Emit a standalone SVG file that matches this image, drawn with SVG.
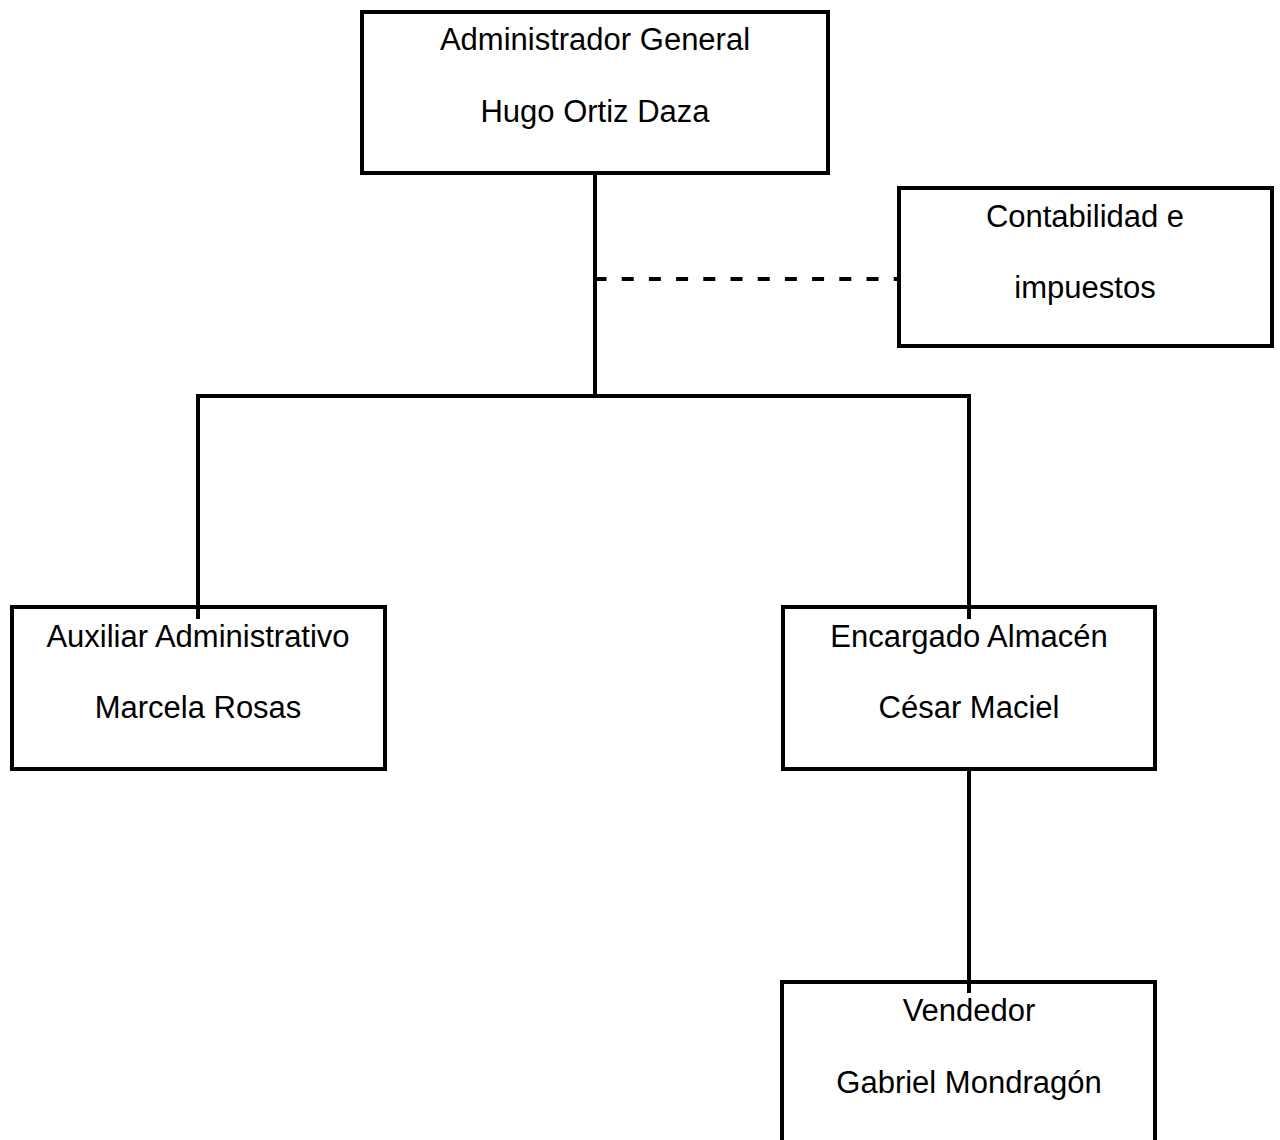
<svg xmlns="http://www.w3.org/2000/svg" width="1280" height="1140" viewBox="0 0 1280 1140">
<style>
.box{fill:#fff;stroke:#000;stroke-width:4}
.ln{fill:none;stroke:#000;stroke-width:4;stroke-linejoin:miter}
.dash{fill:none;stroke:#000;stroke-width:4;stroke-dasharray:12 15.2}
text{font-family:"Liberation Sans",Arial,sans-serif;font-size:31px;fill:#000;text-anchor:middle}
</style>
<rect width="1280" height="1140" fill="#fff"/>
<g id="n-admin">
<rect class="box" x="362" y="12" width="466" height="161"/>
<text x="595" y="50">Administrador General</text>
<text x="595" y="122">Hugo Ortiz Daza</text>
</g>
<g id="n-contab">
<rect class="box" x="899" y="188" width="373" height="158"/>
<text x="1085" y="227">Contabilidad e</text>
<text x="1085" y="298">impuestos</text>
</g>
<g id="n-aux">
<rect class="box" x="12" y="607" width="373" height="162"/>
<text x="198" y="647">Auxiliar Administrativo</text>
<text x="198" y="718">Marcela Rosas</text>
</g>
<g id="n-almacen">
<rect class="box" x="783" y="607" width="372" height="162"/>
<text x="969" y="647">Encargado Almacén</text>
<text x="969" y="718">César Maciel</text>
</g>
<g id="n-vendedor">
<rect class="box" x="782" y="982" width="373" height="200"/>
<text x="969" y="1021">Vendedor</text>
<text x="969" y="1093">Gabriel Mondragón</text>
</g>
<g id="connectors">
<path class="ln" d="M595 173 V396"/>
<path class="ln" d="M198 619 V396 H969 V619"/>
<path class="ln" d="M969 769 V993"/>
<path class="dash" d="M594.5 279 H897"/>
</g>
</svg>
